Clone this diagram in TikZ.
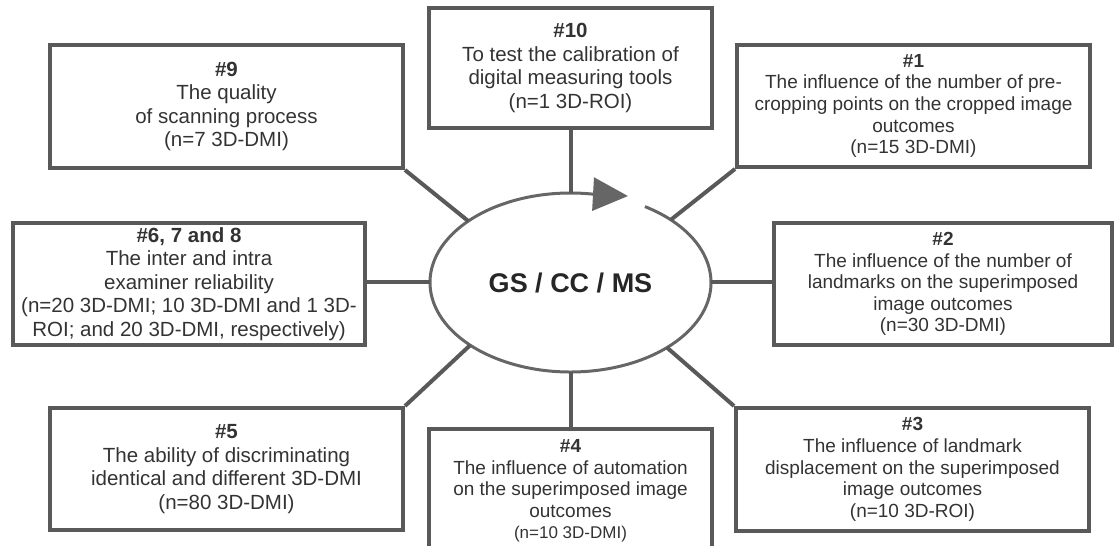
\documentclass[tikz,border=0pt]{standalone}
\usepackage{fontspec}
\setmainfont{Liberation Sans}
\usetikzlibrary{arrows.meta,shapes.geometric}
\definecolor{boxgray}{HTML}{595959}
\definecolor{textgray}{HTML}{333333}
\definecolor{ellgray}{HTML}{666666}

\begin{document}
\begin{tikzpicture}[x=1pt, y=1pt,
      every node/.append style={align=center, text=textgray, inner sep=0pt}]
    \tikzstyle{box} = [draw=boxgray, line width=4pt, minimum width=353, minimum height=122,
      font={\fontsize{20.5}{23.5}\selectfont}]
    \tikzstyle{tight} = [font={\fontsize{19}{21.6}\selectfont}]
    \tikzstyle{link} = [draw=boxgray, line width=4pt]
    \useasboundingbox (0,0) rectangle (1120,546);
    % centre
    \node (ell) [ellipse, minimum width=281, minimum height=179, outer sep=0pt,
      font={\bfseries\fontsize{27}{30}\selectfont}, text=black!85] at (570.5,263.5) {GS / CC / MS};
    \draw[ellgray, line width=3pt, -{Triangle[length=35pt, width=33pt]}]
      ([shift={(58:140.5 and 89.5)}]ell.center) arc[start angle=58, end angle=-278.8,
      x radius=140.5, y radius=89.5] -- ++(36,-2);
    % boxes
    \node (b10) [box, minimum width=283, minimum height=120] at (570.5,478)
      {{\bfseries\#10}\\To test the calibration of\\digital measuring tools\\(n=1 3D-ROI)};
    \node (b9) [box, minimum height=123] at (226.5,439.5)
      {{\bfseries\#9}\\The quality\\of scanning process\\(n=7 3D-DMI)};
    \node (b1) [box, tight] at (913.5,440)
      {{\bfseries\#1}\\The influence of the number of pre-\\cropping points on the cropped image\\outcomes\\(n=15 3D-DMI)};
    \node (b678) [box, minimum width=352] at (189,262)
      {{\bfseries\#6, 7 and 8}\\The inter and intra\\examiner reliability\\(n=20 3D-DMI; 10 3D-DMI and 1 3D-\\ROI; and 20 3D-DMI, respectively)};
    \node (b2) [box, tight, minimum width=338] at (943,262)
      {{\bfseries\#2}\\The influence of the number of\\landmarks on the superimposed\\image outcomes\\(n=30 3D-DMI)};
    \node (b5) [box] at (226.5,77)
      {{\bfseries\#5}\\The ability of discriminating\\identical and different 3D-DMI\\(n=80 3D-DMI)};
    \node (b3) [box, tight, minimum height=123] at (912.5,76.5)
      {{\bfseries\#3}\\The influence of landmark\\displacement on the superimposed\\image outcomes\\(n=10 3D-ROI)};
    \node (b4) [box, tight, minimum width=283, minimum height=124, anchor=north] at (570.5,119)
      {{\bfseries\#4}\\The influence of automation\\on the superimposed image\\outcomes\\{\fontsize{17}{19}\selectfont(n=10 3D-DMI)}};
    % links
    \draw[link] (b10) -- (ell);
    \draw[link] (b9.south east) -- (ell.149);
    \draw[link] (b1.south west) -- (ell.32);
    \draw[link] (ell.west) -- (ell.west -| b678.east);
    \draw[link] (ell.east) -- (ell.east -| b2.west);
    \draw[link] (b5.north east) -- (ell.212);
    \draw[link] (ell) -- (b4);
    \draw[link] (b3.north west) -- (ell.326);
\end{tikzpicture}
\end{document}
